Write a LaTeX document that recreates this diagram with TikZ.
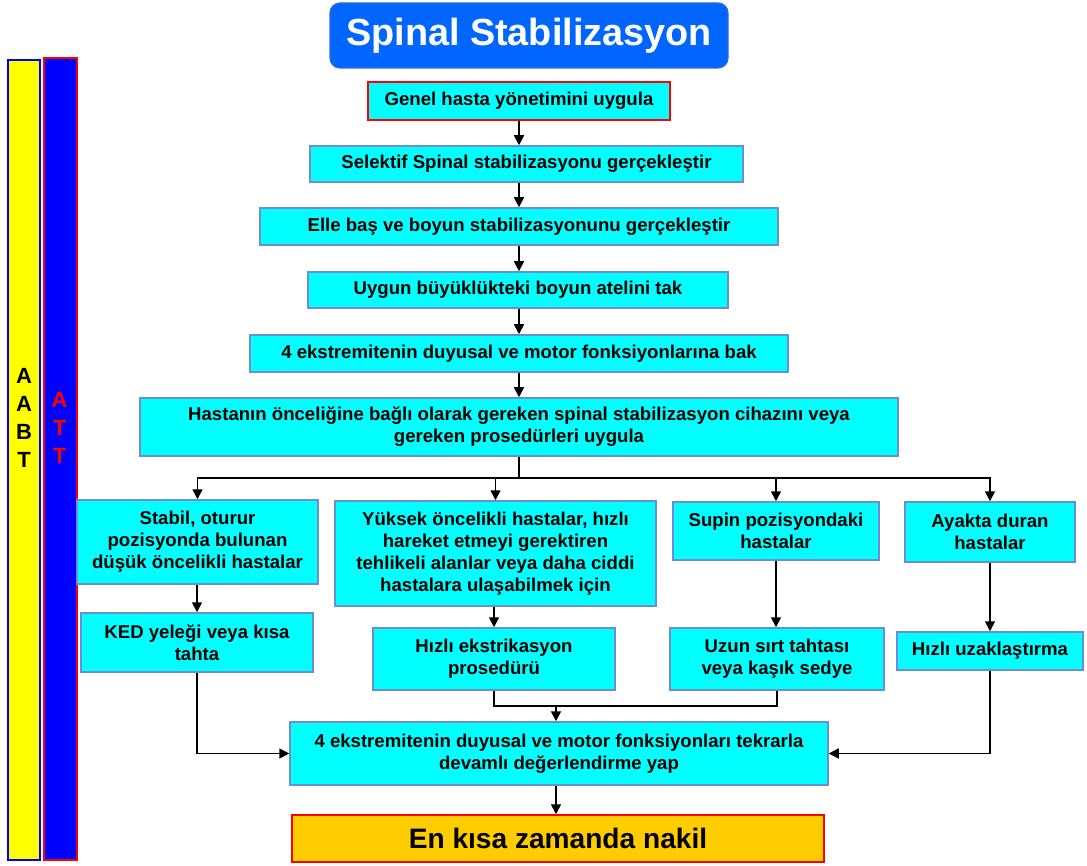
\documentclass[tikz,border=0pt]{standalone}
\usepackage{fontspec}
\setmainfont{Liberation Sans}
\usetikzlibrary{arrows.meta}
\definecolor{boxcyan}{RGB}{0, 255, 255}
\definecolor{boxedge}{RGB}{110, 140, 210}
\definecolor{titleblue}{RGB}{0, 102, 255}
\definecolor{nakilgold}{RGB}{255, 204, 0}
\definecolor{barred}{RGB}{255, 0, 0}
\definecolor{barblue}{RGB}{0, 0, 255}
\definecolor{baryellow}{RGB}{255, 255, 0}

\begin{document}
\begin{tikzpicture}[x=1pt, y=-1pt,
    stepbox/.style={draw=boxedge, line width=1.5pt, fill=boxcyan, align=center,
        inner sep=2pt, font=\bfseries\fontsize{18.6}{22}\selectfont},
    flow/.style={-{Triangle[length=10pt,width=10pt]}, line width=1.6pt},
    link/.style={line width=1.6pt}]
    \useasboundingbox (0,0) rectangle (1087,866);

    % side bars
    \node[draw=barblue, fill=baryellow, line width=1.2pt, minimum width=32pt, minimum height=800pt] (aabt) at (24,460) {};
    \node[draw=barred, fill=barblue, line width=1.2pt, minimum width=33pt, minimum height=802pt] (att) at (60.5,459) {};
    \node[align=center, font=\bfseries\fontsize{22}{28}\selectfont] (aabtlbl) at (24,418) {A\\A\\B\\T};
    \node[align=center, text=barred, font=\bfseries\fontsize{22}{28}\selectfont] (attlbl) at (59.5,428) {A\\T\\T};

    % title
    \node[draw=titleblue!70!gray, fill=titleblue, rounded corners=10pt, line width=1.2pt, text=white,
        font=\bfseries\fontsize{37.8}{40}\selectfont, minimum width=398pt, minimum height=65pt] (title) at (529,35.5) {Spinal Stabilizasyon};

    % main chain
    \node[stepbox, draw=barred, minimum width=302pt, minimum height=38pt] (genel) at (519,101) {Genel hasta yönetimini\ uygula};
    \node[stepbox, minimum width=433pt, minimum height=36pt] (selektif) at (526.5,164) {Selektif Spinal stabilizasyonu gerçekleştir};
    \node[stepbox, minimum width=518pt, minimum height=37pt] (elle) at (519,226.5) {Elle baş ve boyun stabilizasyonunu gerçekleştir};
    \node[stepbox, minimum width=420pt, minimum height=36pt] (uygun) at (518,290) {Uygun büyüklükteki boyun atelini tak};
    \node[stepbox, minimum width=538pt, minimum height=37pt] (ekstre) at (519,353.5) {4 ekstremitenin\ duyusal ve motor fonksiyonlarına bak};
    \node[stepbox, minimum width=758pt, minimum height=58pt] (cihaz) at (519,427) {Hastanın önceliğine bağlı olarak gereken spinal stabilizasyon cihazını veya\\gereken prosedürleri uygula};

    % patient groups
    \node[stepbox, minimum width=241pt, minimum height=84pt] (stabil) at (197.5,542) {Stabil, oturur\\pozisyonda bulunan\\düşük öncelikli hastalar};
    \node[stepbox, minimum width=321pt, minimum height=105pt] (yuksek) at (495.5,553.5) {Yüksek öncelikli hastalar, hızlı\\hareket etmeyi\ gerektiren\\tehlikeli alanlar veya daha ciddi\\hastalara ulaşabilmek için};
    \node[stepbox, minimum width=206pt, minimum height=58pt] (supin) at (776,531) {Supin pozisyondaki\\hastalar};
    \node[stepbox, minimum width=170pt, minimum height=60pt] (ayakta) at (990,532) {Ayakta duran\\hastalar};

    % procedures
    \node[stepbox, minimum width=232pt, minimum height=59pt] (ked) at (197,642.5) {KED yeleği veya kısa\\tahta};
    \node[stepbox, minimum width=242pt, minimum height=62pt] (hizliek) at (494,659) {Hızlı ekstrikasyon\\prosedürü};
    \node[stepbox, minimum width=214pt, minimum height=62pt] (uzun) at (777,659) {Uzun sırt tahtası\\veya kaşık\ sedye};
    \node[stepbox, minimum width=186pt, minimum height=38pt] (uzak) at (990,651) {Hızlı uzaklaştırma};

    % reassessment and transport
    \node[stepbox, minimum width=538pt, minimum height=63pt] (ekstre2) at (559,753.5) {4 ekstremitenin\ duyusal ve motor fonksiyonları tekrarla\\devamlı değerlendirme yap};
    \node[stepbox, draw=barred, fill=nakilgold, minimum width=532pt, minimum height=47pt,
        font=\bfseries\fontsize{28.1}{30}\selectfont] (nakil) at (558,838.5) {En kısa zamanda nakil};

    \draw[flow] (genel) -- (selektif.north -| genel);
    \draw[flow] (selektif.south -| genel) -- (elle);
    \draw[flow] (elle) -- (uygun.north -| elle);
    \draw[flow] (uygun.south -| elle) -- (ekstre);
    \draw[flow] (ekstre) -- (cihaz);

    \coordinate (split) at (519,478);
    \draw[link] (cihaz) -- (split);
    \draw[flow] (split) -| (stabil);
    \draw[flow] (split) -| (yuksek);
    \draw[flow] (split) -| (supin);
    \draw[flow] (split) -| (ayakta);

    \draw[flow] (stabil.south -| ked) -- (ked);
    \draw[flow] (yuksek.south -| hizliek) -- (hizliek);
    \draw[flow] (supin) -- (uzun.north -| supin);
    \draw[flow] (ayakta) -- (uzak);

    \coordinate (merge) at (556,706);
    \draw[link] (hizliek.south) |- (uzun.south |- merge) -- (uzun.south);
    \draw[flow] (merge) -- (merge |- ekstre2.north);
    \draw[flow] (ked.south) |- (ekstre2.west);
    \draw[flow] (uzak.south) |- (ekstre2.east);
    \draw[flow] (ekstre2.south -| merge) -- (nakil.north -| merge);
\end{tikzpicture}
\end{document}
